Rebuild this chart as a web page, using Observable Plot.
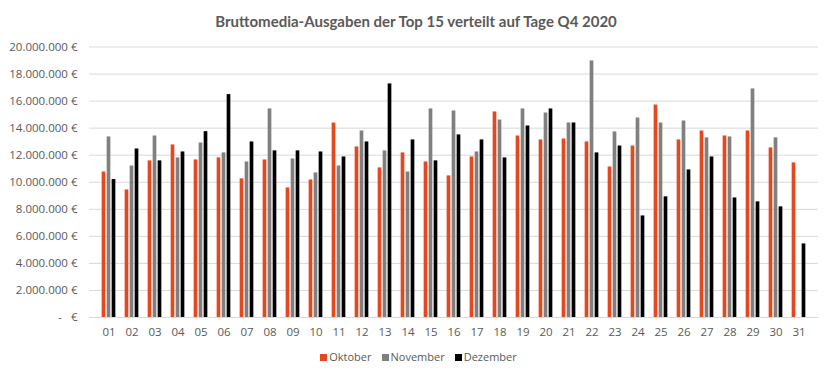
<!DOCTYPE html>
<html><head><meta charset="utf-8">
<script src="https://cdn.jsdelivr.net/npm/d3@7"></script>
<script src="https://cdn.jsdelivr.net/npm/@observablehq/plot@0.6"></script>
<style>
body{margin:0;background:#fff;}
#wrap{position:relative;width:832px;height:379px;overflow:hidden;font-family:"Open Sans",sans-serif;color:#595959}
#title{position:absolute;top:10px;left:0;width:832px;text-align:center;font-family:Lato,sans-serif;font-weight:bold;font-size:15px;line-height:22px;color:#595959}
#chart{position:absolute;top:34px;left:0}
#legend{position:absolute;top:349px;left:0;width:837px;text-align:center;font-size:11px;line-height:16px}
#legend span.item{display:inline-block;margin:0 5px}
#legend i{display:inline-block;width:7px;height:7px;margin-right:2px;vertical-align:0px}
</style></head>
<body>
<div id="wrap">
  <div id="title">Bruttomedia-Ausgaben der Top 15 verteilt auf Tage Q4 2020</div>
  <div id="chart"></div>
  <div id="legend"></div>
</div>
<script>
// Tage (Kategorien)
const days = ["01","02","03","04","05","06","07","08","09","10","11","12","13","14","15","16","17","18","19","20","21","22","23","24","25","26","27","28","29","30","31"];
// Serien (Werte in Mio. €)
const months = ["Oktober","November","Dezember"];
const oktober  = [10.76, 9.43, 11.58, 12.76, 11.65, 11.8, 10.25, 11.65, 9.58, 10.17, 14.38, 12.61, 11.06, 12.17, 11.5, 10.47, 11.87, 15.2, 13.42, 13.13, 13.2, 12.98, 11.13, 12.68, 15.71, 13.13, 13.79, 13.42, 13.79, 12.54, 11.43];
const november = [13.35, 11.2, 13.42, 11.8, 12.9, 12.17, 11.5, 15.42, 11.72, 10.69, 11.2, 13.79, 12.32, 10.76, 15.42, 15.27, 12.24, 14.6, 15.42, 15.12, 14.38, 18.97, 13.72, 14.75, 14.38, 14.53, 13.28, 13.35, 16.9, 13.28, null];
const dezember = [10.2, 12.46, 11.58, 12.24, 13.74, 16.48, 12.98, 12.32, 12.32, 12.24, 11.87, 12.98, 17.27, 13.13, 11.58, 13.5, 13.13, 11.8, 14.16, 15.42, 14.38, 12.17, 12.68, 7.51, 8.92, 10.91, 11.87, 8.84, 8.55, 8.18, 5.44];
// Achsenbeschriftung
const yTicks = [0, 2e6, 4e6, 6e6, 8e6, 10e6, 12e6, 14e6, 16e6, 18e6, 20e6];
const colors = ["#E2491F", "#808080", "#000000"];

const series = [oktober, november, dezember];
const offsets = [-5, 0, 5];
const rows = months.map((m, i) => days.map((d, j) => ({day: d, month: m, value: series[i][j] == null ? null : series[i][j] * 1e6})).filter(r => r.value != null));

const de = d3.formatLocale({decimal: ",", thousands: ".", grouping: [3], currency: ["", " €"]});
const fmt = de.format(",.0f");
const tickFmt = v => v === 0 ? "-\u00a0\u00a0\u00a0€" : fmt(v) + " €";

const W = 832, ML = 89, MR = 14;
const bw = (W - ML - MR) / days.length;
const barW = 4.2;
const inset = (bw - barW) / 2;

const plot = Plot.plot({
  width: W, height: 305,
  marginLeft: ML, marginRight: MR, marginTop: 12.5, marginBottom: 22,
  style: {fontFamily: "Open Sans, sans-serif", fontSize: "11px", color: "#595959", background: "#fff"},
  x: {type: "band", domain: days, padding: 0, label: null},
  y: {domain: [0, 20e6], label: null},
  marks: [
    Plot.ruleY(yTicks, {stroke: "#d9d9d9", strokeWidth: 1}),
    ...rows.map((r, i) => Plot.barY(r, {x: "day", y: "value", fill: colors[i], insetLeft: inset, insetRight: inset, dx: offsets[i]})),
    Plot.axisY(yTicks, {tickSize: 0, tickPadding: 12, tickFormat: tickFmt, label: null, fill: "#595959", fontSize: 11.5}),
    Plot.axisX({tickSize: 0, tickPadding: 10, label: null, fill: "#595959", fontSize: 11.5})
  ]
});
document.getElementById("chart").appendChild(plot);

const lg = document.getElementById("legend");
months.forEach((m, i) => {
  const s = document.createElement("span");
  s.className = "item";
  const sw = document.createElement("i");
  sw.style.background = colors[i];
  s.appendChild(sw);
  s.appendChild(document.createTextNode(m));
  lg.appendChild(s);
});
</script>
</body></html>
